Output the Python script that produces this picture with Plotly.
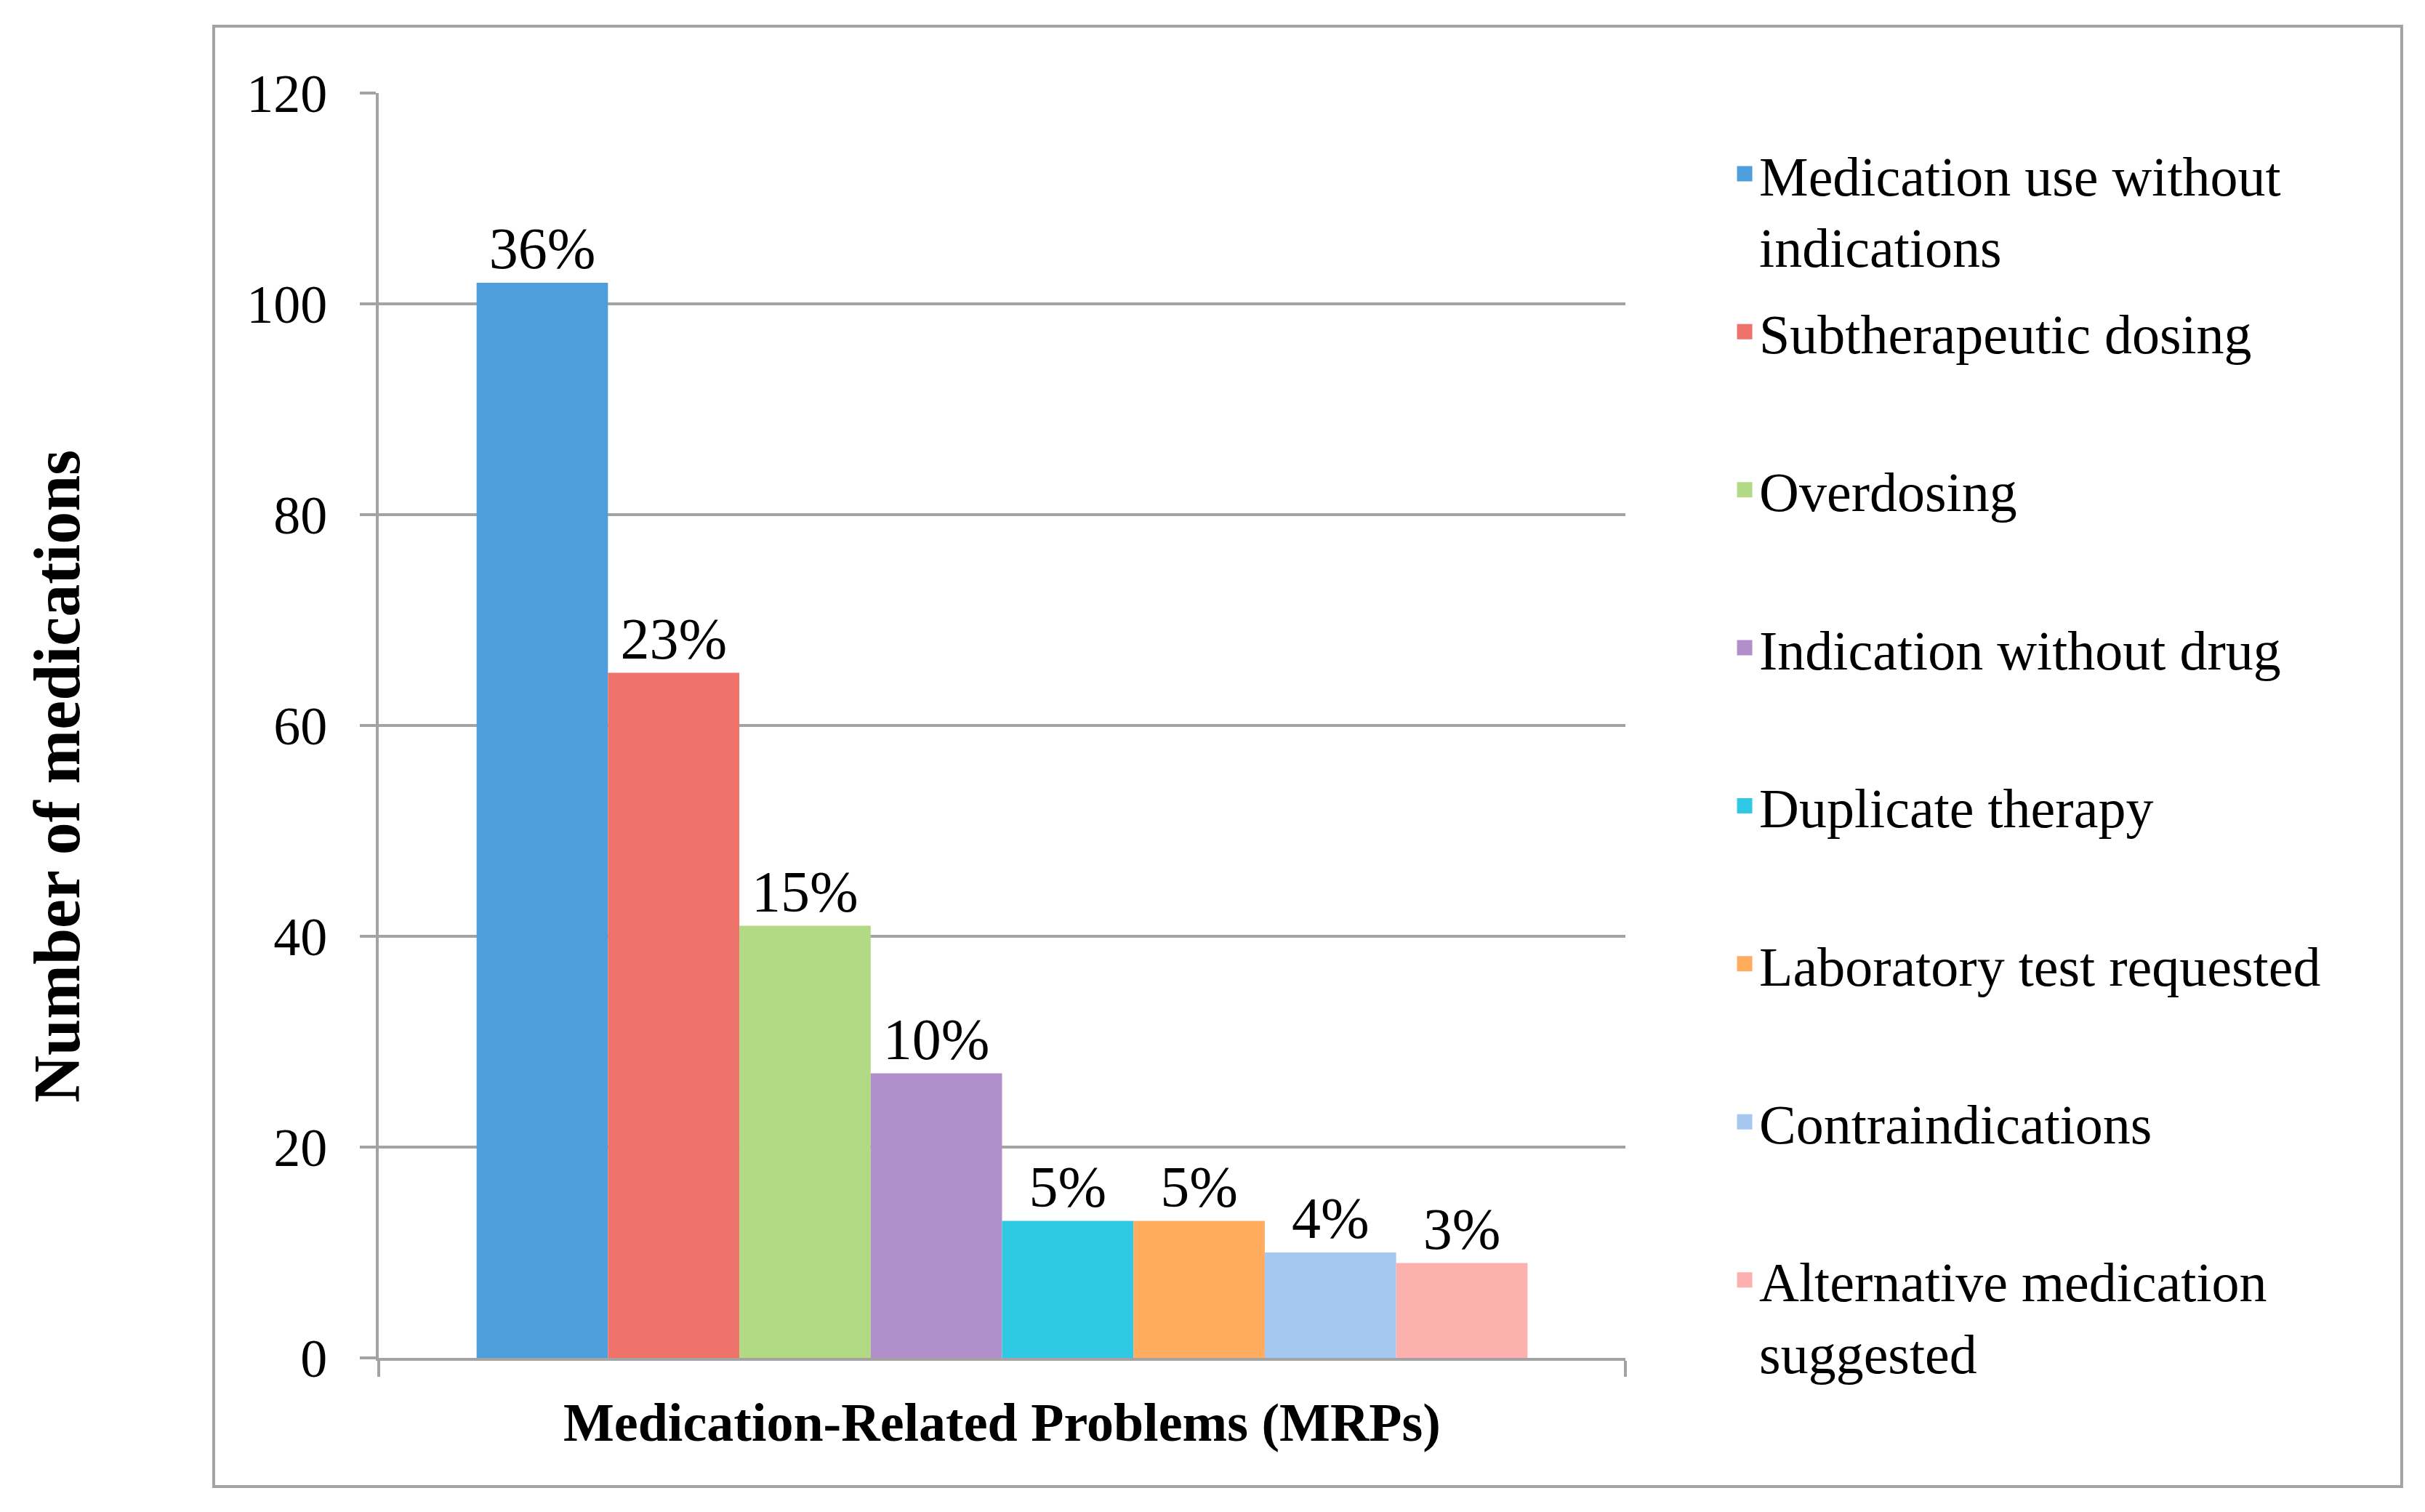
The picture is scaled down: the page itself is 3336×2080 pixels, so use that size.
import plotly.graph_objects as go

# categories (MRP types), counts and the percentage labels shown above the bars
problems = [
    "Medication use without<br>indications",
    "Subtherapeutic dosing",
    "Overdosing",
    "Indication without drug",
    "Duplicate therapy",
    "Laboratory test requested",
    "Contraindications",
    "Alternative medication<br>suggested",
]
counts = [102, 65, 41, 27, 13, 13, 10, 9]
pct_labels = ["36%", "23%", "15%", "10%", "5%", "5%", "4%", "3%"]
colours = ["#4f9edc", "#f0736b", "#b2d983", "#b08fcb",
           "#2fc9e4", "#ffac5e", "#a5c8f0", "#fcb1af"]

group = ["MRPs"]
FONT = "Liberation Serif"
GREY = "#a3a3a3"

fig = go.Figure()
for i in range(len(problems)):
    fig.add_trace(go.Bar(
        x=group,
        y=[counts[i]],
        name=problems[i],
        showlegend=False,
        marker=dict(color=colours[i], line=dict(width=0)),
        text=[pct_labels[i]],
        textposition="outside",
        textfont=dict(family=FONT, size=80, color="black"),
        cliponaxis=False,
    ))

# legend: one small legend per entry so the entries are evenly spaced like the original
LEG_TOP = 0.9684
LEG_STEP = 0.12494
legends = {}
for i in range(len(problems)):
    key = "legend" if i == 0 else "legend%d" % (i + 1)
    fig.add_trace(go.Scatter(
        x=[None], y=[None], mode="markers", name=problems[i],
        marker=dict(symbol="square", size=16, color=colours[i],
                    line=dict(color=colours[i], width=5)),
        legend=key, showlegend=True, hoverinfo="skip",
    ))
    legends[key] = dict(
        x=1.084, y=LEG_TOP - i * LEG_STEP, xanchor="left", yanchor="top",
        valign="top", bgcolor="rgba(0,0,0,0)",
        font=dict(family=FONT, size=76, color="black"),
    )

fig.update_layout(
    width=3320,
    height=2064,
    margin=dict(l=513, r=1092, t=120, b=204),
    paper_bgcolor="white",
    plot_bgcolor="white",
    barmode="group",
    bargap=0.157,
    bargroupgap=0,
    font=dict(family=FONT, size=72, color="black"),
    showlegend=True,
    **legends,
)

fig.update_xaxes(
    showticklabels=False,
    showline=True, linecolor=GREY, linewidth=4,
    ticks="outside", tickson="boundaries", ticklen=22,
    tickcolor=GREY, tickwidth=4,
    showgrid=False,
)
fig.update_yaxes(
    range=[0, 120], dtick=20,
    showline=True, linecolor=GREY, linewidth=4,
    ticks="outside", ticklen=22, tickcolor=GREY, tickwidth=4,
    showgrid=True, gridcolor=GREY, gridwidth=4,
    zeroline=False,
    ticklabelstandoff=30,
    tickfont=dict(family=FONT, size=74, color="black"),
)

# axis titles
fig.add_annotation(
    text="<b>Number of medications</b>", textangle=-90,
    xref="paper", yref="paper", x=-0.2577, y=0.4598,
    xanchor="center", yanchor="middle",
    showarrow=False, font=dict(family=FONT, size=90, color="black"),
)
fig.add_annotation(
    text="<b>Medication-Related Problems (MRPs)</b>",
    xref="paper", yref="paper", x=0.5, y=-0.0511,
    xanchor="center", yanchor="middle",
    showarrow=False, font=dict(family=FONT, size=74, color="black"),
)

# outer chart frame
fig.add_shape(
    type="rect", xref="paper", yref="paper",
    x0=-0.1324, x1=1.6227, y0=-0.1017, y1=1.0529,
    line=dict(color=GREY, width=4), layer="below",
)

fig.write_html("out.html")
